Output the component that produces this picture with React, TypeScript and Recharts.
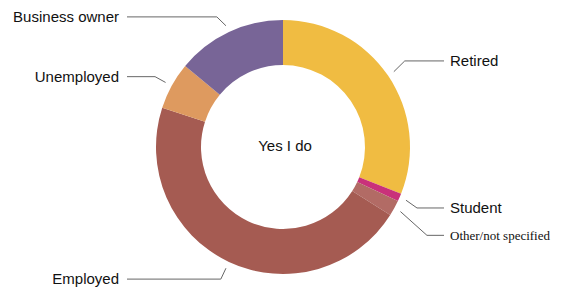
import { PieChart, Pie, Cell } from 'recharts'

const categories = ['Retired', 'Student', 'Other/not specified', 'Employed', 'Unemployed', 'Business owner']
const shares = [31, 1, 2, 46, 6, 14]
const colors = ['#f0bc42', '#c9317a', '#b26b65', '#a55b52', '#de9a5f', '#786597']

const data = categories.map((name, i) => ({ name, value: shares[i] }))

// nudges for label elbows so the small right-hand labels don't collide
const labelShift: Record<string, { dx: number; dy: number }> = {
  Retired: { dx: 1, dy: -4 },
  Student: { dx: 0, dy: 3 },
  'Other/not specified': { dx: 16, dy: 18 },
  'Business owner': { dx: -4, dy: 2 },
}

const RAD = Math.PI / 180
const LINE = '#666'

function renderLabel(props: any) {
  const { cx, cy, midAngle, outerRadius, name } = props
  const cos = Math.cos(-midAngle * RAD)
  const sin = Math.sin(-midAngle * RAD)
  const right = cos >= 0
  const shift = labelShift[name] || { dx: 0, dy: 0 }
  const sx = cx + (outerRadius + 7) * cos
  const sy = cy + (outerRadius + 7) * sin
  const ex = cx + (outerRadius + 19) * cos + shift.dx
  const ey = cy + (outerRadius + 19) * sin + shift.dy
  const lx = right ? 444 : 127
  const tx = right ? 450 : 119
  const serif = name === 'Other/not specified'
  return (
    <g>
      <path d={`M${sx},${sy}L${ex},${ey}L${lx},${ey}`} stroke={LINE} fill="none" strokeWidth={1} />
      <text
        x={tx}
        y={ey}
        dy="0.35em"
        textAnchor={right ? 'start' : 'end'}
        fill="#111"
        fontSize={serif ? 13 : 15}
        fontFamily={serif ? '"Liberation Serif", serif' : '"Liberation Sans", Arial, sans-serif'}
      >
        {name}
      </text>
    </g>
  )
}

export default function App() {
  return (
    <div style={{ position: 'fixed', left: 0, top: 0, background: '#fff' }}>
      <PieChart width={563} height={289} margin={{ top: 0, right: 0, bottom: 0, left: 0 }}>
        <Pie
          data={data}
          dataKey="value"
          nameKey="name"
          cx={283}
          cy={147}
          innerRadius={82}
          outerRadius={127}
          startAngle={90}
          endAngle={-270}
          stroke="none"
          label={renderLabel}
          labelLine={false}
          isAnimationActive={false}
        >
          {data.map((d, i) => (
            <Cell key={d.name} fill={colors[i]} />
          ))}
        </Pie>
        <text
          x={285}
          y={146}
          dy="0.35em"
          textAnchor="middle"
          fill="#111"
          fontSize={15}
          fontFamily='"Liberation Sans", Arial, sans-serif'
        >
          Yes I do
        </text>
      </PieChart>
    </div>
  )
}
